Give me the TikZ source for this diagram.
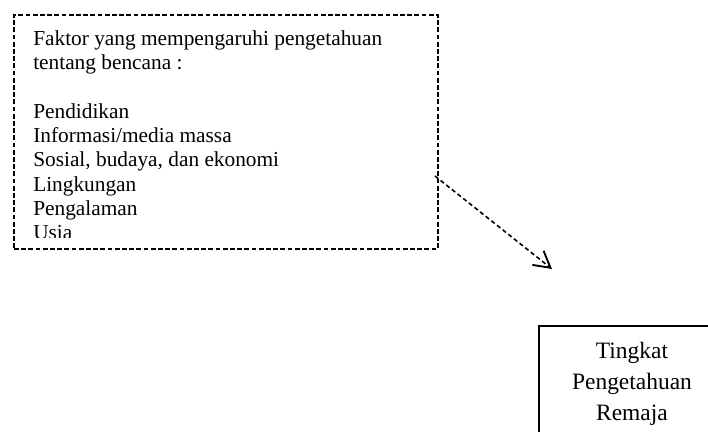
\documentclass[tikz,border=0pt]{standalone}
\usepackage{fontspec}
\setmainfont{Liberation Serif}
\usepackage{tikz}
\usetikzlibrary{positioning}
\usetikzlibrary{arrows.meta}

\begin{document}
\begin{tikzpicture}[x=0.75pt, y=-0.75pt,
    faktorbox/.style={draw, line width=1.5pt, dash pattern=on 3.6pt off 1.8pt,
        minimum width=318pt, minimum height=175.5pt, inner sep=0pt},
    tingkatbox/.style={draw, line width=1.5pt, align=center, text width=130pt,
        inner xsep=4.75pt, inner ysep=7.5pt, font=\fontsize{17.6}{23.6}\selectfont},
    panah/.style={line width=1.2pt, dash pattern=on 3.2pt off 2.2pt,
        -{Straight Barb[length=12pt, width=13.5pt, line width=1.4pt]}}]
    \useasboundingbox (0,0) rectangle (708,432);
    \node[faktorbox, anchor=north west] (faktor) at (13,14) {};
    \begin{scope}
        \clip (13,14) rectangle (437,237);
        \node[anchor=north west, inner sep=0pt, align=left,
            font=\fontsize{16}{18.2}\selectfont] (daftar)
            at ([shift={(20,14.2)}]faktor.north west) {
            \strut Faktor yang mempengaruhi pengetahuan\\
            tentang bencana :\\[18.2pt]
            Pendidikan\\
            Informasi/media massa\\
            Sosial, budaya, dan ekonomi\\
            Lingkungan\\
            Pengalaman\\
            Usia
        };
    \end{scope}
    \node[tingkatbox, anchor=north west] (tingkat) at (538,325)
        {\strut Tingkat\\Pengetahuan\\Remaja};
    \coordinate (ujung) at (552,269);
    \draw[panah] ([shift={(-4,44)}]faktor.east) -- (ujung);
\end{tikzpicture}
\end{document}
